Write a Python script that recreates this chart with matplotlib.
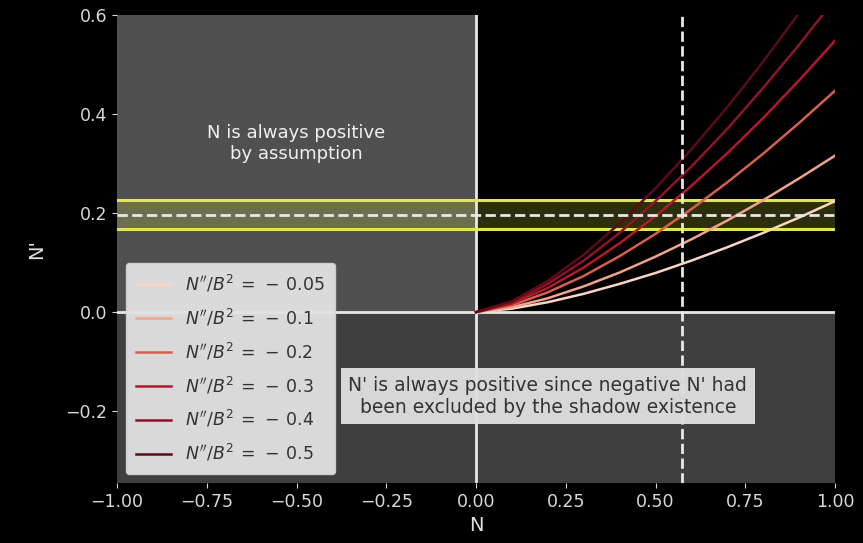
import numpy as np
import matplotlib.pyplot as plt

# N'' / B^2 values and the N' curves read at N = 0, 0.1, ..., 1.0
ratios = ['0.05', '0.1', '0.2', '0.3', '0.4', '0.5']
colors = ['#fbd5c5', '#f0a48c', '#d6604d', '#b2182b', '#8e1428', '#5a0c18']
N = [0.0, 0.1, 0.2, 0.3, 0.4, 0.5, 0.6, 0.7, 0.8, 0.9, 1.0]
Nprime = [
    [0, 0.007, 0.020, 0.037, 0.057, 0.079, 0.104, 0.131, 0.160, 0.191, 0.224],
    [0, 0.010, 0.028, 0.052, 0.080, 0.112, 0.147, 0.185, 0.226, 0.270, 0.316],
    [0, 0.014, 0.040, 0.073, 0.113, 0.158, 0.208, 0.262, 0.320, 0.382, 0.447],
    [0, 0.017, 0.049, 0.090, 0.139, 0.194, 0.255, 0.321, 0.392, 0.468, 0.548],
    [0, 0.020, 0.057, 0.104, 0.160, 0.224, 0.294, 0.370, 0.453, 0.540, 0.632],
    [0, 0.022, 0.063, 0.116, 0.179, 0.250, 0.329, 0.414, 0.506, 0.604, 0.707],
]

# observed N' band and the critical N
band_mid = 0.197
band_lo, band_hi = 0.167, 0.227
N_crit = 0.573

xlim = (-1.0, 1.0)
ylim = (-0.345, 0.6)

plt.style.use('dark_background')
fig = plt.figure(figsize=(8.63, 5.43), dpi=100)
ax = fig.add_axes([0.1356, 0.1105, 0.832, 0.862])
ax.set_facecolor('black')

# excluded regions
ax.fill_between([xlim[0], 0], 0, ylim[1], color='#505050', lw=0, zorder=0)
ax.fill_between([xlim[0], xlim[1]], ylim[0], 0, color='#3f3f3f', lw=0, zorder=0)

ax.axvline(0, color='#e8e8e8', lw=2, zorder=2)
ax.axhline(0, color='#e8e8e8', lw=2, zorder=2)

# band
ax.fill_between([xlim[0], xlim[1]], band_lo, band_hi, color='#e0e84a', alpha=0.2, lw=0, zorder=1)
ax.axhline(band_lo, color='#dfe650', lw=2.2, zorder=2)
ax.axhline(band_hi, color='#dfe650', lw=2.2, zorder=2)
ax.axhline(band_mid, color='#e8e8e8', lw=2, ls='--', zorder=4)
ax.axvline(N_crit, color='#e8e8e8', lw=2, ls='--', zorder=4)

for r, c, yv in zip(ratios, colors, Nprime):
    ax.plot(N, yv, color=c, lw=1.8, zorder=3, label=r"$N''/B^2\:=\,-\,%s$" % r)

ax.text(-0.5, 0.34, 'N is always positive\nby assumption', color='#f0f0f0',
        ha='center', va='center', fontsize=13)
ax.text(0.2, -0.17, "N' is always positive since negative N' had\nbeen excluded by the shadow existence",
        color='#333333', ha='center', va='center', fontsize=13.5, zorder=5,
        bbox=dict(facecolor='#dedede', edgecolor='none', alpha=0.96, boxstyle='square,pad=0.4'))

leg = ax.legend(loc='lower left', fontsize=12.5, labelspacing=0.74, borderpad=0.6,
                handlelength=2.0, facecolor='#e2e2e2', edgecolor='#d0d0d0', framealpha=0.95)
for t in leg.get_texts():
    t.set_color('#333333')

ax.set_xlim(*xlim)
ax.set_ylim(*ylim)
ax.set_xticks([-1.0, -0.75, -0.5, -0.25, 0.0, 0.25, 0.5, 0.75, 1.0])
ax.set_yticks([-0.2, 0.0, 0.2, 0.4, 0.6])
ax.tick_params(colors='#d8d8d8', labelsize=12.5)
for s in ax.spines.values():
    s.set_visible(False)
ax.set_xlabel('N', fontsize=14, color='#e0e0e0', labelpad=4)
ax.set_ylabel("N'", fontsize=14, color='#e0e0e0', labelpad=14)

fig.savefig('out.png', dpi=100, facecolor='black')
